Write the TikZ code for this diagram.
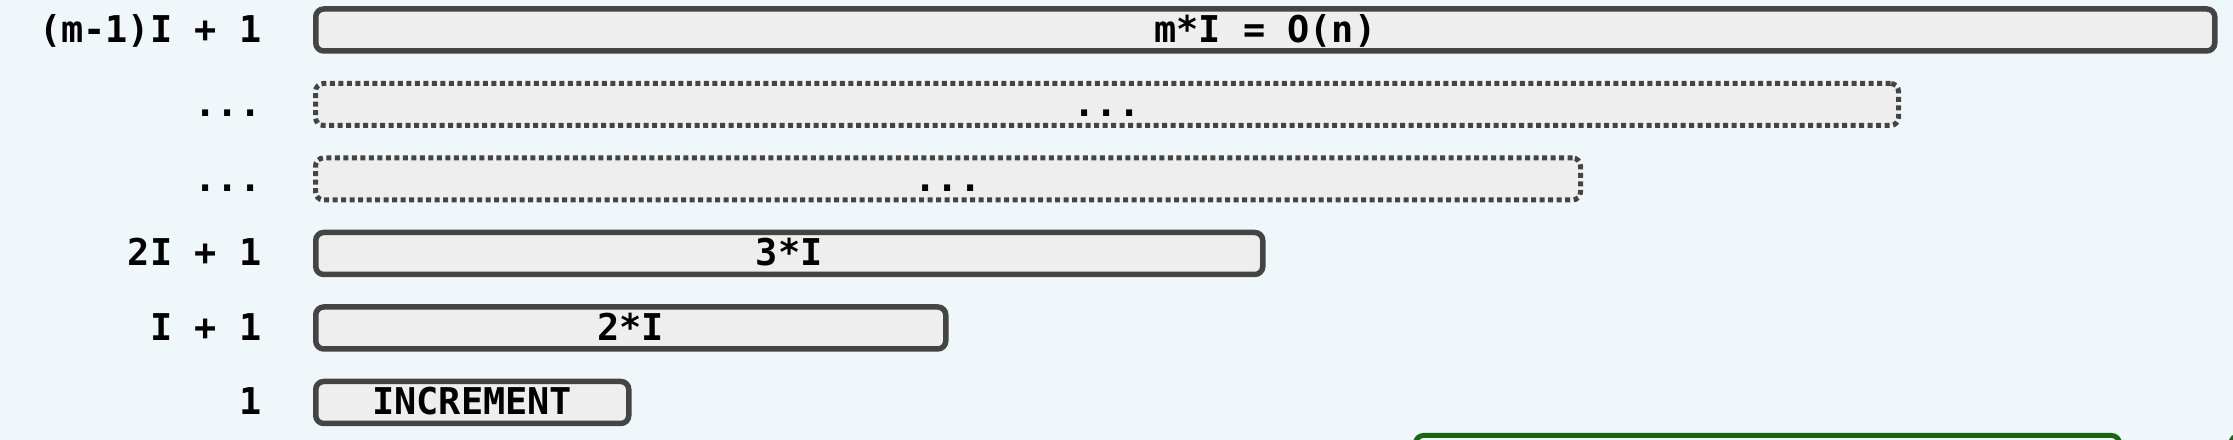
\documentclass[tikz,border=0pt]{standalone}
\usepackage{fontspec}
\setmonofont{DejaVu Sans Mono}
\definecolor{bgblue}{RGB}{239,247,250}
\definecolor{barfill}{RGB}{238,238,238}
\definecolor{bardraw}{RGB}{68,68,68}
\definecolor{darkgreen}{RGB}{26,102,16}
\begin{document}
\begin{tikzpicture}[
	txt/.style={font=\ttfamily\bfseries\fontsize{10.5}{12}\selectfont, text height=0.25cm, text depth=0pt},
	bar/.style={txt, draw=bardraw, fill=barfill, line width=0.055cm, rounded corners=0.08cm, minimum height=0.42cm, inner sep=0pt, anchor=west},
	dotbar/.style={bar, line width=0.05cm, dash pattern=on 0.05cm off 0.035cm},
	lbl/.style={txt, anchor=east, inner sep=0pt}]
	\useasboundingbox (0,0) rectangle (22.33,4.40);
	\clip (0,0) rectangle (22.33,4.40);
	\fill[bgblue] (0,0) rectangle (22.33,4.40);
	% rows, from the top
	\node[bar, minimum width=18.99cm] (rowm) at (3.13,4.10) {m*I = O(n)};
	\node[dotbar, minimum width=15.83cm] (rowd) at (3.13,3.355) {...};
	\node[dotbar, minimum width=12.65cm] (rowc) at (3.13,2.61) {...};
	\node[bar, minimum width=9.47cm] (rowthree) at (3.13,1.865) {3*I};
	\node[bar, minimum width=6.30cm] (rowtwo) at (3.13,1.12) {2*I};
	\node[bar, minimum width=3.13cm] (rowone) at (3.13,0.375) {INCREMENT};
	% start offsets
	\node[lbl] (offm) at (2.62,4.10) {(m-1)I + 1};
	\node[lbl] (offd) at (2.62,3.355) {...};
	\node[lbl] (offc) at (2.62,2.61) {...};
	\node[lbl] (offthree) at (2.62,1.865) {2I + 1};
	\node[lbl] (offtwo) at (2.62,1.12) {I + 1};
	\node[lbl] (offone) at (2.62,0.375) {1};
	% green boxes, cut by the lower edge
	\draw[darkgreen, line width=0.05cm, rounded corners=0.08cm] (14.155,0.045) rectangle (21.195,-0.8);
	\draw[darkgreen, line width=0.05cm, rounded corners=0.08cm] (22.31,0.045) rectangle (24,-0.8);
\end{tikzpicture}
\end{document}
